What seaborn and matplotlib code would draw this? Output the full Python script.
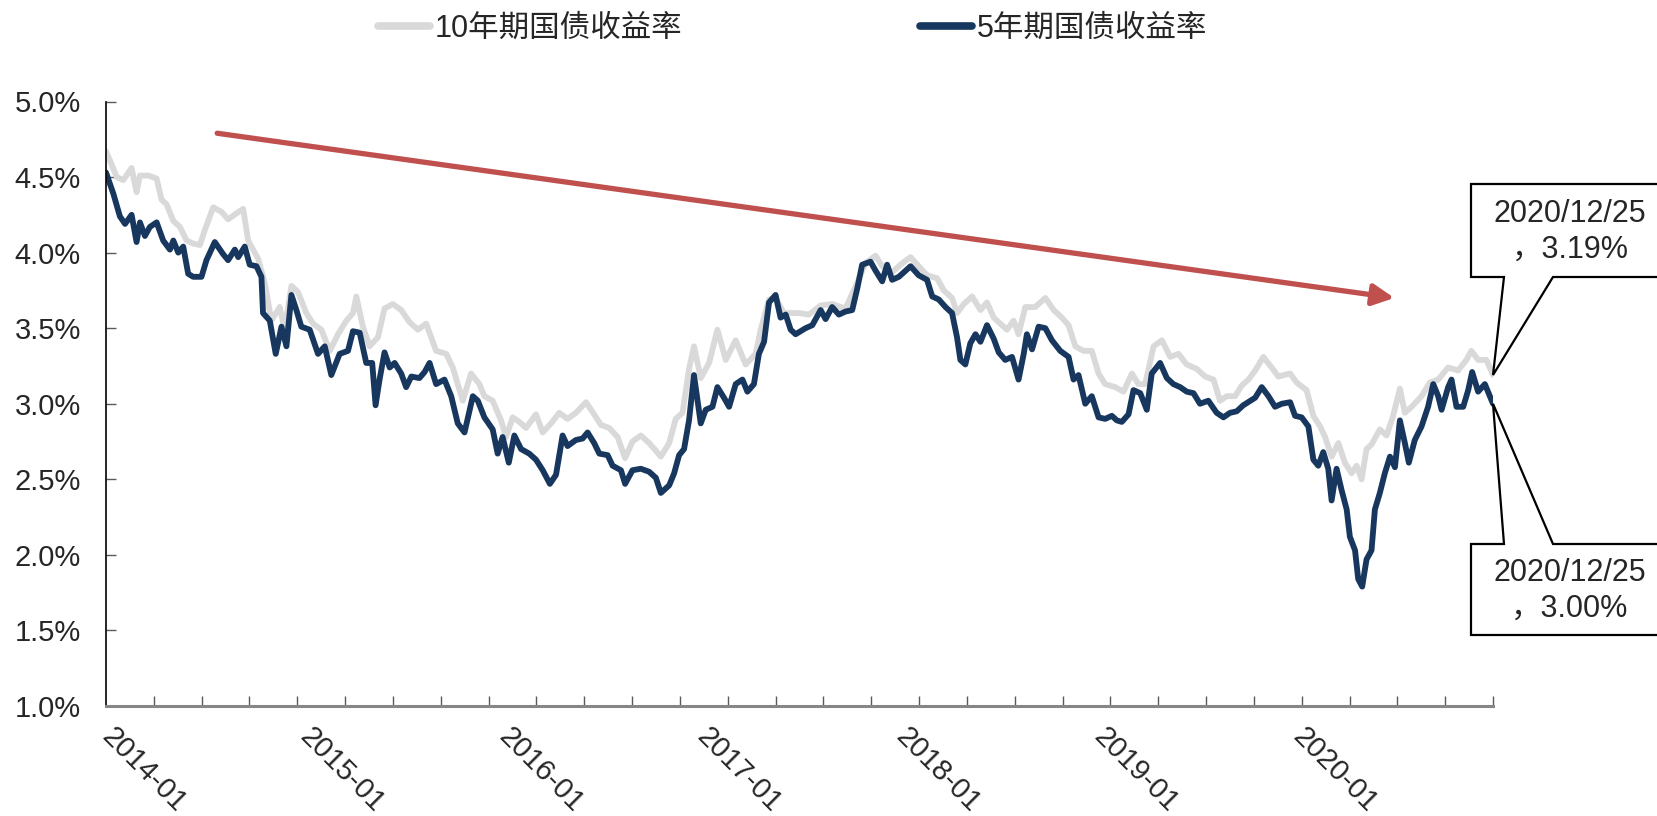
import matplotlib
matplotlib.use("Agg")
import matplotlib.pyplot as plt
import seaborn as sns
import numpy as np
from matplotlib.patches import Polygon
from matplotlib.transforms import IdentityTransform

# 10-year yield (time as decimal year, value in %)
t10 = [2014.000, 2014.020, 2014.054, 2014.087, 2014.129, 2014.154, 2014.171, 2014.213, 2014.255, 2014.280,
       2014.305, 2014.339, 2014.372, 2014.406, 2014.439, 2014.473, 2014.498, 2014.540, 2014.582, 2014.615,
       2014.657, 2014.691, 2014.716, 2014.766, 2014.800, 2014.833, 2014.875, 2014.900, 2014.934, 2014.967,
       2015.009, 2015.043, 2015.085, 2015.127, 2015.169, 2015.211, 2015.244, 2015.261, 2015.294, 2015.328,
       2015.370, 2015.403, 2015.445, 2015.487, 2015.529, 2015.571, 2015.613, 2015.663, 2015.714, 2015.747,
       2015.797, 2015.839, 2015.881, 2015.906, 2015.948, 2015.990, 2016.015, 2016.049, 2016.082, 2016.116,
       2016.166, 2016.200, 2016.242, 2016.283, 2016.325, 2016.367, 2016.418, 2016.459, 2016.493, 2016.535,
       2016.577, 2016.615, 2016.652, 2016.694, 2016.736, 2016.770, 2016.795, 2016.837, 2016.870, 2016.904,
       2016.937, 2016.962, 2016.996, 2017.038, 2017.080, 2017.122, 2017.172, 2017.222, 2017.273, 2017.298,
       2017.340, 2017.373, 2017.415, 2017.491, 2017.541, 2017.600, 2017.658, 2017.725, 2017.784, 2017.826,
       2017.877, 2017.910, 2017.960, 2018.011, 2018.053, 2018.094, 2018.136, 2018.187, 2018.220, 2018.262,
       2018.287, 2018.321, 2018.363, 2018.405, 2018.438, 2018.472, 2018.505, 2018.539, 2018.572, 2018.597,
       2018.631, 2018.681, 2018.732, 2018.774, 2018.815, 2018.849, 2018.883, 2018.924, 2018.966, 2019.000,
       2019.033, 2019.084, 2019.126, 2019.168, 2019.201, 2019.235, 2019.277, 2019.319, 2019.361, 2019.403,
       2019.444, 2019.495, 2019.537, 2019.579, 2019.612, 2019.646, 2019.688, 2019.721, 2019.755, 2019.789,
       2019.830, 2019.872, 2019.906, 2019.965, 2019.998, 2020.048, 2020.082, 2020.116, 2020.141, 2020.174,
       2020.208, 2020.241, 2020.275, 2020.300, 2020.325, 2020.350, 2020.375, 2020.417, 2020.451, 2020.484,
       2020.518, 2020.543, 2020.577, 2020.627, 2020.669, 2020.711, 2020.761, 2020.811, 2020.853, 2020.878,
       2020.912, 2020.954, 2020.987]
y10 = [4.67, 4.61, 4.50, 4.48, 4.56, 4.40, 4.51, 4.51, 4.49, 4.35,
       4.32, 4.21, 4.17, 4.08, 4.06, 4.05, 4.15, 4.30, 4.27, 4.22,
       4.26, 4.29, 4.08, 3.96, 3.80, 3.55, 3.64, 3.49, 3.78, 3.74,
       3.60, 3.53, 3.49, 3.35, 3.46, 3.55, 3.60, 3.71, 3.51, 3.38,
       3.44, 3.63, 3.66, 3.62, 3.54, 3.49, 3.53, 3.35, 3.33, 3.24,
       3.02, 3.20, 3.13, 3.05, 3.02, 2.89, 2.78, 2.91, 2.88, 2.84,
       2.93, 2.81, 2.87, 2.94, 2.90, 2.94, 3.01, 2.93, 2.86, 2.84,
       2.78, 2.64, 2.75, 2.79, 2.74, 2.69, 2.65, 2.74, 2.90, 2.94,
       3.23, 3.38, 3.17, 3.27, 3.49, 3.29, 3.42, 3.26, 3.33, 3.49,
       3.69, 3.70, 3.60, 3.60, 3.59, 3.65, 3.66, 3.63, 3.80, 3.93,
       3.98, 3.91, 3.87, 3.93, 3.97, 3.91, 3.85, 3.83, 3.75, 3.70,
       3.60, 3.66, 3.71, 3.62, 3.67, 3.57, 3.53, 3.49, 3.55, 3.46,
       3.64, 3.64, 3.70, 3.62, 3.57, 3.52, 3.38, 3.35, 3.35, 3.20,
       3.13, 3.11, 3.08, 3.20, 3.13, 3.13, 3.38, 3.42, 3.31, 3.33,
       3.26, 3.23, 3.18, 3.16, 3.02, 3.05, 3.05, 3.12, 3.16, 3.22,
       3.31, 3.24, 3.18, 3.20, 3.14, 3.09, 2.92, 2.85, 2.78, 2.65,
       2.74, 2.61, 2.54, 2.59, 2.50, 2.70, 2.73, 2.83, 2.79, 2.92,
       3.10, 2.94, 2.98, 3.05, 3.14, 3.16, 3.24, 3.22, 3.29, 3.35,
       3.29, 3.29, 3.19]

# 5-year yield
t5 = [2014.000, 2014.037, 2014.070, 2014.096, 2014.129, 2014.154, 2014.171, 2014.196, 2014.221, 2014.255,
      2014.288, 2014.322, 2014.339, 2014.364, 2014.389, 2014.414, 2014.439, 2014.481, 2014.506, 2014.548,
      2014.590, 2014.615, 2014.649, 2014.666, 2014.699, 2014.724, 2014.758, 2014.783, 2014.791, 2014.825,
      2014.855, 2014.884, 2014.909, 2014.934, 2014.959, 2014.984, 2015.026, 2015.068, 2015.102, 2015.135,
      2015.177, 2015.219, 2015.244, 2015.278, 2015.311, 2015.341, 2015.358, 2015.378, 2015.403, 2015.429,
      2015.454, 2015.487, 2015.512, 2015.538, 2015.579, 2015.605, 2015.630, 2015.663, 2015.705, 2015.739,
      2015.772, 2015.806, 2015.848, 2015.873, 2015.906, 2015.948, 2015.973, 2015.998, 2016.029, 2016.057,
      2016.091, 2016.132, 2016.166, 2016.200, 2016.236, 2016.267, 2016.300, 2016.325, 2016.367, 2016.401,
      2016.426, 2016.459, 2016.485, 2016.527, 2016.552, 2016.594, 2016.615, 2016.652, 2016.694, 2016.736,
      2016.770, 2016.795, 2016.837, 2016.862, 2016.887, 2016.912, 2016.937, 2016.962, 2016.996, 2017.021,
      2017.055, 2017.080, 2017.113, 2017.139, 2017.172, 2017.206, 2017.231, 2017.264, 2017.289, 2017.315,
      2017.340, 2017.373, 2017.398, 2017.424, 2017.449, 2017.474, 2017.524, 2017.558, 2017.600, 2017.625,
      2017.658, 2017.692, 2017.725, 2017.759, 2017.784, 2017.809, 2017.851, 2017.877, 2017.910, 2017.935,
      2017.960, 2017.994, 2018.019, 2018.053, 2018.094, 2018.136, 2018.162, 2018.195, 2018.229, 2018.262,
      2018.287, 2018.304, 2018.329, 2018.354, 2018.380, 2018.405, 2018.438, 2018.472, 2018.497, 2018.530,
      2018.564, 2018.597, 2018.623, 2018.639, 2018.665, 2018.698, 2018.732, 2018.765, 2018.807, 2018.849,
      2018.874, 2018.899, 2018.933, 2018.966, 2019.000, 2019.033, 2019.067, 2019.092, 2019.117, 2019.151,
      2019.176, 2019.210, 2019.243, 2019.268, 2019.310, 2019.344, 2019.377, 2019.411, 2019.444, 2019.478,
      2019.511, 2019.553, 2019.595, 2019.629, 2019.662, 2019.696, 2019.729, 2019.789, 2019.822, 2019.856,
      2019.889, 2019.923, 2019.965, 2019.990, 2020.023, 2020.057, 2020.082, 2020.107, 2020.132, 2020.157,
      2020.174, 2020.199, 2020.224, 2020.250, 2020.266, 2020.292, 2020.308, 2020.328, 2020.350, 2020.375,
      2020.392, 2020.417, 2020.442, 2020.468, 2020.493, 2020.518, 2020.543, 2020.563, 2020.593, 2020.627,
      2020.660, 2020.686, 2020.711, 2020.728, 2020.761, 2020.778, 2020.803, 2020.837, 2020.862, 2020.882,
      2020.912, 2020.946, 2020.987]
y5 = [4.53, 4.39, 4.24, 4.19, 4.25, 4.07, 4.20, 4.11, 4.17, 4.20,
      4.08, 4.02, 4.08, 4.00, 4.04, 3.86, 3.84, 3.84, 3.95, 4.07,
      3.99, 3.95, 4.02, 3.97, 4.04, 3.92, 3.91, 3.84, 3.60, 3.55,
      3.33, 3.51, 3.38, 3.72, 3.62, 3.51, 3.49, 3.33, 3.38, 3.19,
      3.33, 3.35, 3.48, 3.47, 3.27, 3.27, 2.99, 3.16, 3.34, 3.24,
      3.27, 3.20, 3.11, 3.18, 3.17, 3.21, 3.27, 3.13, 3.16, 3.05,
      2.87, 2.81, 3.05, 3.02, 2.91, 2.83, 2.67, 2.78, 2.61, 2.79,
      2.70, 2.67, 2.63, 2.56, 2.47, 2.53, 2.79, 2.72, 2.76, 2.77,
      2.81, 2.74, 2.67, 2.66, 2.59, 2.56, 2.47, 2.56, 2.57, 2.55,
      2.51, 2.41, 2.46, 2.54, 2.66, 2.70, 2.89, 3.19, 2.87, 2.96,
      2.98, 3.11, 3.04, 2.98, 3.13, 3.16, 3.08, 3.13, 3.33, 3.41,
      3.67, 3.72, 3.57, 3.59, 3.49, 3.46, 3.50, 3.52, 3.62, 3.56,
      3.64, 3.59, 3.61, 3.62, 3.76, 3.92, 3.94, 3.88, 3.81, 3.92,
      3.82, 3.84, 3.87, 3.91, 3.85, 3.82, 3.71, 3.69, 3.64, 3.60,
      3.44, 3.29, 3.26, 3.40, 3.46, 3.41, 3.52, 3.43, 3.34, 3.29,
      3.31, 3.16, 3.33, 3.46, 3.36, 3.51, 3.50, 3.42, 3.35, 3.31,
      3.16, 3.19, 3.00, 3.05, 2.91, 2.90, 2.92, 2.89, 2.88, 2.93,
      3.09, 3.07, 2.96, 3.20, 3.27, 3.17, 3.13, 3.11, 3.08, 3.07,
      3.00, 3.02, 2.94, 2.91, 2.94, 2.95, 2.99, 3.04, 3.11, 3.05,
      2.98, 3.00, 3.01, 2.92, 2.91, 2.85, 2.63, 2.59, 2.68, 2.57,
      2.36, 2.57, 2.43, 2.30, 2.12, 2.03, 1.84, 1.79, 1.97, 2.03,
      2.30, 2.41, 2.54, 2.65, 2.58, 2.89, 2.74, 2.61, 2.76, 2.85,
      2.98, 3.13, 3.05, 2.96, 3.11, 3.16, 2.98, 2.98, 3.09, 3.21,
      3.08, 3.13, 3.00]

years = [2014, 2015, 2016, 2017, 2018, 2019, 2020]
year_labels = [f"{y}-01" for y in years]
y_ticks = [1.0, 1.5, 2.0, 2.5, 3.0, 3.5, 4.0, 4.5, 5.0]
last_date_label = "2020/12/25"

c10 = "#D9D9D9"
c5 = "#17375E"
c_arrow = "#C0504D"

sns.set_style("white")
plt.rcParams['font.family'] = ['Liberation Sans', 'Noto Sans CJK SC', 'DejaVu Sans']

W, H = 1658, 816
fig = plt.figure(figsize=(W / 100, H / 100), dpi=100)
ax = fig.add_axes([106 / W, 1 - 706 / H, (1493 - 106) / W, (706 - 101.5) / H])

sns.lineplot(x=t10, y=y10, color=c10, linewidth=4.2, label="10年期国债收益率", ax=ax)
sns.lineplot(x=t5, y=y5, color=c5, linewidth=4.2, label="5年期国债收益率", ax=ax)

ax.set_xlim(t5[0], t5[-1])
ax.set_ylim(1.0, 5.0)

# y axis
ax.set_yticks(y_ticks)
ax.set_yticklabels([f"{v:.1f}%" for v in y_ticks])
ax.tick_params(axis='y', direction='in', length=7, width=1, color='#595959',
               labelsize=21, pad=18, left=True)

# x axis: labels at each year start, tick marks on an even grid
ax.set_xticks(years)
ax.set_xticklabels(year_labels, rotation=-45, ha='left', va='center', rotation_mode='anchor')
ax.tick_params(axis='x', which='major', length=0, labelsize=21, pad=19)
ax.set_xticks(np.linspace(t5[0], t5[-1], 30), minor=True)
ax.tick_params(axis='x', which='minor', direction='in', length=7, width=1,
               color='#595959', bottom=True)

for s in ['top', 'right']:
    ax.spines[s].set_visible(False)
ax.spines['left'].set_color('black')
ax.spines['left'].set_linewidth(1.2)
ax.spines['bottom'].set_color('#868686')
ax.spines['bottom'].set_linewidth(2.2)
ax.set_xlabel('')
ax.set_ylabel('')

# legend at the top
leg = ax.legend(loc='center', bbox_to_anchor=(0.478, 0.965), bbox_transform=fig.transFigure,
                ncol=2, frameon=False, fontsize=22, handlelength=1.7, handletextpad=0.15,
                columnspacing=7.8)
for line in leg.get_lines():
    line.set_linewidth(5.5)

# red trend arrow
ax.annotate('', xy=(2020.49, 3.70), xytext=(2014.56, 4.79),
            arrowprops=dict(arrowstyle='-|>', color=c_arrow, lw=3.8,
                            mutation_scale=32, shrinkA=0, shrinkB=0))

# callouts for the last values
fig.canvas.draw()
tip10 = ax.transData.transform((t10[-1], y10[-1]))
tip5 = ax.transData.transform((t5[-1], y5[-1]))


def img(x, y):
    return (x, H - y)


box_top = [img(1471, 184), img(1720, 184), img(1720, 277), img(1553, 277), tuple(tip10),
           img(1504, 277), img(1471, 277)]
box_bot = [img(1471, 544), img(1504, 544), tuple(tip5), img(1553, 544), img(1720, 544),
           img(1720, 635), img(1471, 635)]
for pts in (box_top, box_bot):
    fig.add_artist(Polygon(pts, closed=True, facecolor='white', edgecolor='black',
                           linewidth=1.6, transform=IdentityTransform(), clip_on=False))

fig.text(1570 / W, 1 - 232 / H, f"{last_date_label}\n，{y10[-1]:.2f}%", ha='center', va='center',
         fontsize=22, linespacing=1.25, family=['Liberation Sans', 'Noto Sans CJK SC'])
fig.text(1570 / W, 1 - 591 / H, f"{last_date_label}\n，{y5[-1]:.2f}%", ha='center', va='center',
         fontsize=22, linespacing=1.25, family=['Liberation Sans', 'Noto Sans CJK SC'])

fig.savefig("out.png", dpi=100)
